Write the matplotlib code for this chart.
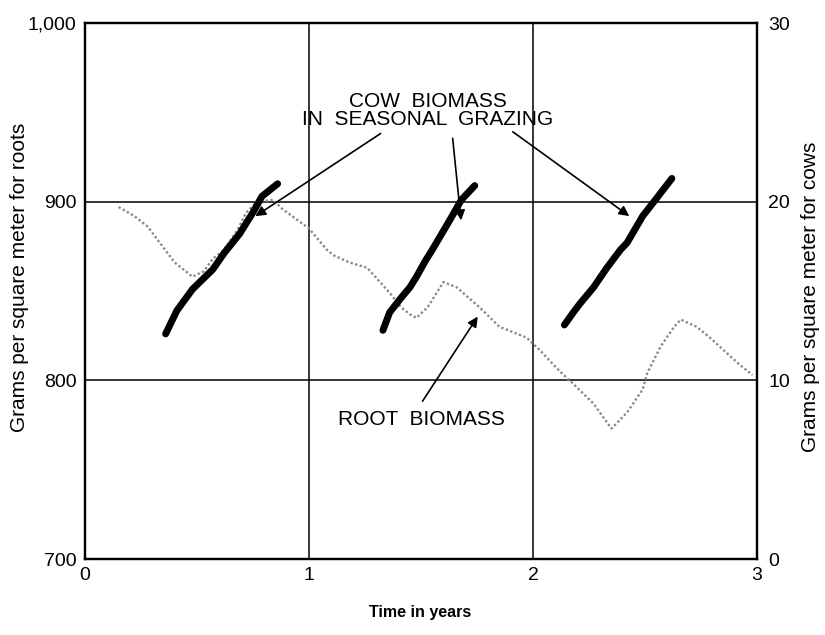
import matplotlib
matplotlib.use("Agg")
import matplotlib.pyplot as plt

plt.rcParams['font.family'] = ['Liberation Sans', 'DejaVu Sans']

# Root biomass (g/m^2, left axis)
root_x = [0.15, 0.22, 0.28, 0.40, 0.48, 0.53, 0.57, 0.62, 0.68, 0.72, 0.77, 0.84,
          0.88, 1.00, 1.08, 1.11, 1.18, 1.26, 1.31, 1.36, 1.41, 1.45, 1.48, 1.53,
          1.60, 1.66, 1.76, 1.85, 1.97, 2.03, 2.12, 2.18, 2.27, 2.35, 2.42, 2.49,
          2.51, 2.57, 2.63, 2.66, 2.73, 2.78, 2.85, 2.92, 2.98]
root_y = [897, 892, 886, 866, 858, 861, 868, 873, 884, 894, 900, 901,
          896, 885, 873, 870, 866, 863, 856, 849, 841, 837, 835, 841,
          855, 852, 841, 830, 824, 817, 805, 798, 787, 773, 782, 795,
          804, 819, 830, 834, 830, 825, 817, 809, 803]

# Cow biomass segments (g/m^2, right axis)
cow1_x = [0.36, 0.41, 0.48, 0.57, 0.62, 0.69, 0.75, 0.79, 0.86]
cow1_y = [12.6, 13.9, 15.1, 16.2, 17.1, 18.2, 19.4, 20.3, 21.0]
cow2_x = [1.33, 1.36, 1.41, 1.45, 1.48, 1.52, 1.55, 1.63, 1.68, 1.74]
cow2_y = [12.8, 13.8, 14.6, 15.2, 15.8, 16.7, 17.3, 19.0, 20.1, 20.9]
cow3_x = [2.14, 2.18, 2.21, 2.27, 2.33, 2.39, 2.42, 2.49, 2.54, 2.62]
cow3_y = [13.1, 13.8, 14.3, 15.2, 16.3, 17.3, 17.7, 19.2, 20.0, 21.3]

x_ticks = [0, 1, 2, 3]
left_ticks = [700, 800, 900, 1000]
left_labels = ['700', '800', '900', '1,000']
right_ticks = [0, 10, 20, 30]
right_labels = ['0', '10', '20', '30']

W, H = 825, 635
fig = plt.figure(figsize=(W / 100, H / 100), dpi=100)
L, R, T, B = 85, 757, 23, 559
ax = fig.add_axes([L / W, (H - B) / H, (R - L) / W, (B - T) / H])
ax.set_xlim(0, 3)
ax.set_ylim(700, 1000)
ax.set_xticks(x_ticks)
ax.set_xticklabels([str(t) for t in x_ticks], fontsize=14)
ax.set_yticks(left_ticks)
ax.set_yticklabels(left_labels, fontsize=14)
ax.tick_params(length=0, pad=6)
for s in ax.spines.values():
    s.set_linewidth(1.6)
    s.set_color('black')
for xv in [1, 2]:
    ax.axvline(xv, color='black', lw=1.1, zorder=1)
for yv in [800, 900]:
    ax.axhline(yv, color='black', lw=1.1, zorder=1)

ax.plot(root_x, root_y, color='#8a8a8a', lw=1.7, linestyle=(0, (1, 1)), zorder=2)

ax2 = ax.twinx()
ax2.set_ylim(0, 30)
ax2.set_yticks(right_ticks)
ax2.set_yticklabels(right_labels, fontsize=14)
ax2.tick_params(length=0, pad=8)
for s in ax2.spines.values():
    s.set_linewidth(1.6)
for cx, cy in [(cow1_x, cow1_y), (cow2_x, cow2_y), (cow3_x, cow3_y)]:
    ax2.plot(cx, cy, color='black', lw=5, solid_capstyle='round', zorder=3)

fig.text(20 / W, 1 - 277 / H, 'Grams per square meter for roots', rotation=90,
         ha='center', va='center', fontsize=15)
fig.text(810 / W, 1 - 297 / H, 'Grams per square meter for cows', rotation=90,
         ha='center', va='center', fontsize=15)
fig.text(420 / W, 1 - 613 / H, 'Time in years', ha='center', va='center',
         fontsize=11.5, fontweight='bold')

ax.text(1.53, 951, 'COW  BIOMASS\nIN  SEASONAL  GRAZING', ha='center', va='center',
        fontsize=15, linespacing=0.95, zorder=5)
ap = dict(arrowstyle='-|>', color='black', lw=1.2, mutation_scale=15)
ax.annotate('', xy=(0.75, 891), xytext=(1.33, 939), arrowprops=ap)
ax.annotate('', xy=(1.68, 888), xytext=(1.64, 937), arrowprops=ap)
ax.annotate('', xy=(2.44, 891), xytext=(1.90, 940), arrowprops=ap)

ax.text(1.50, 778, 'ROOT  BIOMASS', ha='center', va='center', fontsize=15)
ax.annotate('', xy=(1.76, 837), xytext=(1.50, 787), arrowprops=ap)

fig.savefig('out.png', dpi=100)
